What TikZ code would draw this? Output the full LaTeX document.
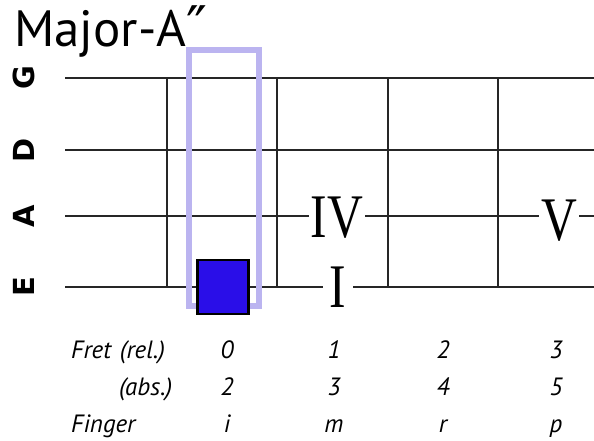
\documentclass[tikz,border=0pt]{standalone}
\usepackage{fontspec}
\setmainfont{PT Sans}
\newfontfamily\romanfont{Liberation Serif}
\newfontfamily\stringfont{DejaVu Sans}
\newfontfamily\primefont{DejaVu Sans}
\usetikzlibrary{positioning}
\definecolor{lavender}{RGB}{187,180,240}
\definecolor{fingerblue}{RGB}{42,14,232}

\begin{document}
\begin{tikzpicture}[x=1pt, y=-1pt,
  wire/.style={line width=1.3pt, black!85},
  strname/.style={font=\stringfont\bfseries\fontsize{29}{29}\selectfont, rotate=90, inner sep=0pt},
  degree/.style={font=\romanfont\fontsize{62}{62}\selectfont, fill=white, inner xsep=2pt, inner ysep=0pt},
  tab/.style={font=\itshape\fontsize{25}{25}\selectfont, anchor=base, inner sep=0pt}]
  \useasboundingbox (0,0) rectangle (594,441);

  \node[anchor=base west, inner sep=0pt, font=\fontsize{51}{51}\selectfont] (title) at (14,47) {Major-A{\primefont\fontsize{56}{56}\selectfont ″}};

  % strings
  \foreach \s/\y in {G/78, D/150, A/216, E/287} {
    \coordinate (\s-start) at (65,\y);
    \coordinate (\s-end) at (594,\y);
    \draw[wire] (\s-start) -- (\s-end);
    \node[strname] (label-\s) at (24,\y) {\s};
  }

  % frets
  \foreach \x [count=\i] in {167,277,388,498} {
    \coordinate (fret\i-top) at (\x,78);
    \coordinate (fret\i-bot) at (\x,287);
    \draw[wire] (fret\i-top) -- (fret\i-bot);
  }

  % hand position and finger
  \node[draw=lavender, line width=6pt, minimum width=70pt, minimum height=255.5pt, inner sep=0pt] (position) at (223.5,178.25) {};
  \node[draw=black, fill=fingerblue, line width=2.2pt, minimum width=51pt, minimum height=54pt, inner sep=0pt] (finger) at (223,287) {};

  % degrees
  \node[degree] (IV) at (337,218) {\scalebox{0.8}[1]{IV}};
  \node[degree, inner xsep=7pt] (I) at (338,287) {\scalebox{0.8}[1]{I}};
  \node[degree] (V) at (559,221) {\scalebox{0.8}[1]{V}};

  % table
  \node[tab, anchor=base west] (fret) at (71,358) {Fret\hspace{0.35em}(rel.)};
  \node[tab, anchor=base west] (abs) at (119,395) {(abs.)};
  \node[tab, anchor=base west] (fing) at (71,432) {Finger};
  \foreach \x/\r/\a/\f [count=\i] in {227/0/2/i, 334/1/3/m, 443/2/4/r, 556/3/5/p} {
    \node[tab] (rel\i) at (\x,358) {\r};
    \node[tab] (abs\i) at (\x,395) {\a};
    \node[tab] (fing\i) at (\x,432) {\f};
  }
\end{tikzpicture}
\end{document}
